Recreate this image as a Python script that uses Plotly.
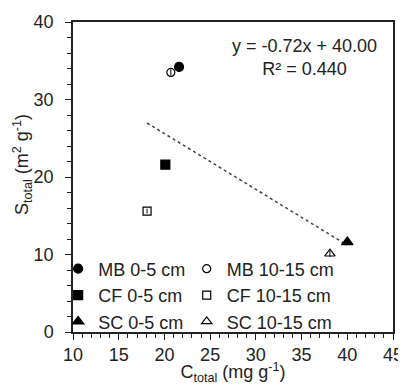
import plotly.graph_objects as go

# Data
series_names = ["MB 0-5 cm", "MB 10-15 cm", "CF 0-5 cm", "CF 10-15 cm", "SC 0-5 cm", "SC 10-15 cm"]
legend_groups = ["legend", "legend2", "legend", "legend2", "legend", "legend2"]
c_total = [21.6, 20.7, 20.1, 18.1, 40.0, 38.1]
s_total = [34.2, 33.5, 21.6, 15.6, 11.6, 10.1]
s_err = [0.4, 0.4, 0.4, 0.3, 0.3, 0.4]
symbols = ["circle", "circle-open", "square", "square-open", "triangle-up", "triangle-up-open"]
sizes = [9, 8, 9, 8, 10, 9]

slope = -0.72
intercept = 40.00
r2 = 0.440
trend_x = [min(c_total), max(c_total)]
trend_y = [slope * x + intercept for x in trend_x]

x_ticks = [10, 15, 20, 25, 30, 35, 40, 45]
y_ticks = [0, 10, 20, 30, 40]

FONT = "Arial, 'Liberation Sans', sans-serif"
TXT = "#222222"

fig = go.Figure()
fig.add_trace(go.Scatter(
    x=trend_x, y=trend_y, mode="lines",
    line=dict(color="#444444", width=1.5, dash="dot"),
    showlegend=False, hoverinfo="skip"))

for name, lg, x, y, e, sym, sz in zip(series_names, legend_groups, c_total, s_total, s_err, symbols, sizes):
    fig.add_trace(go.Scatter(
        x=[x], y=[y], mode="markers", name=name, legend=lg,
        marker=dict(symbol=sym, size=sz, color="black",
                    line=dict(color="black", width=1.2)),
        error_y=dict(type="data", array=[e], color="black", thickness=1, width=0),
    ))

legend_style = dict(xref="container", yref="paper", y=0.263, xanchor="left", yanchor="top",
                    itemwidth=30, bgcolor="rgba(0,0,0,0)", font=dict(size=18, color=TXT),
                    tracegroupgap=0, orientation="v")

# page body has an 8px margin, so the figure is drawn 8px right/down
fig.update_layout(
    width=398, height=377,
    margin=dict(l=65, r=13, t=14, b=53, autoexpand=False),
    paper_bgcolor="white", plot_bgcolor="white",
    font=dict(family=FONT, size=18, color=TXT),
    legend=dict(x=0.126, **legend_style),
    legend2=dict(x=0.449, **legend_style),
    annotations=[
        dict(x=0.722, y=0.884, xref="paper", yref="paper", xanchor="center", yanchor="middle",
             text=f"y = {slope:.2f}x + {intercept:.2f}<br>R² = {r2:.3f}",
             showarrow=False, align="center", font=dict(size=18, color=TXT)),
        dict(x=-0.158, y=0.54, xref="paper", yref="paper", xanchor="center", yanchor="middle",
             text="S<sub>total</sub> (m<sup>2</sup> g<sup>-1</sup>)", textangle=-90,
             showarrow=False, font=dict(size=18, color=TXT)),
    ],
)

fig.update_xaxes(
    range=[10, 45], tickvals=x_ticks, ticks="outside", ticklen=6, tickwidth=1.2,
    tickcolor="#222", showline=True, linecolor="#222", linewidth=1.5, mirror=True,
    showgrid=False, zeroline=False, automargin=False,
    minor=dict(dtick=1, ticks="outside", ticklen=4, tickcolor="#222", showgrid=False),
    title=dict(text="C<sub>total</sub> (mg g<sup>-1</sup>)", font=dict(size=18)),
)
fig.update_yaxes(
    range=[0, 40], tickvals=y_ticks, ticks="outside", ticklen=6, tickwidth=1.2,
    tickcolor="#222", showline=True, linecolor="#222", linewidth=1.5, mirror=True,
    showgrid=False, zeroline=False, ticklabelstandoff=8, automargin=False,
    minor=dict(dtick=2, ticks="outside", ticklen=4, tickcolor="#222", showgrid=False),
)

fig.write_html("out.html")
